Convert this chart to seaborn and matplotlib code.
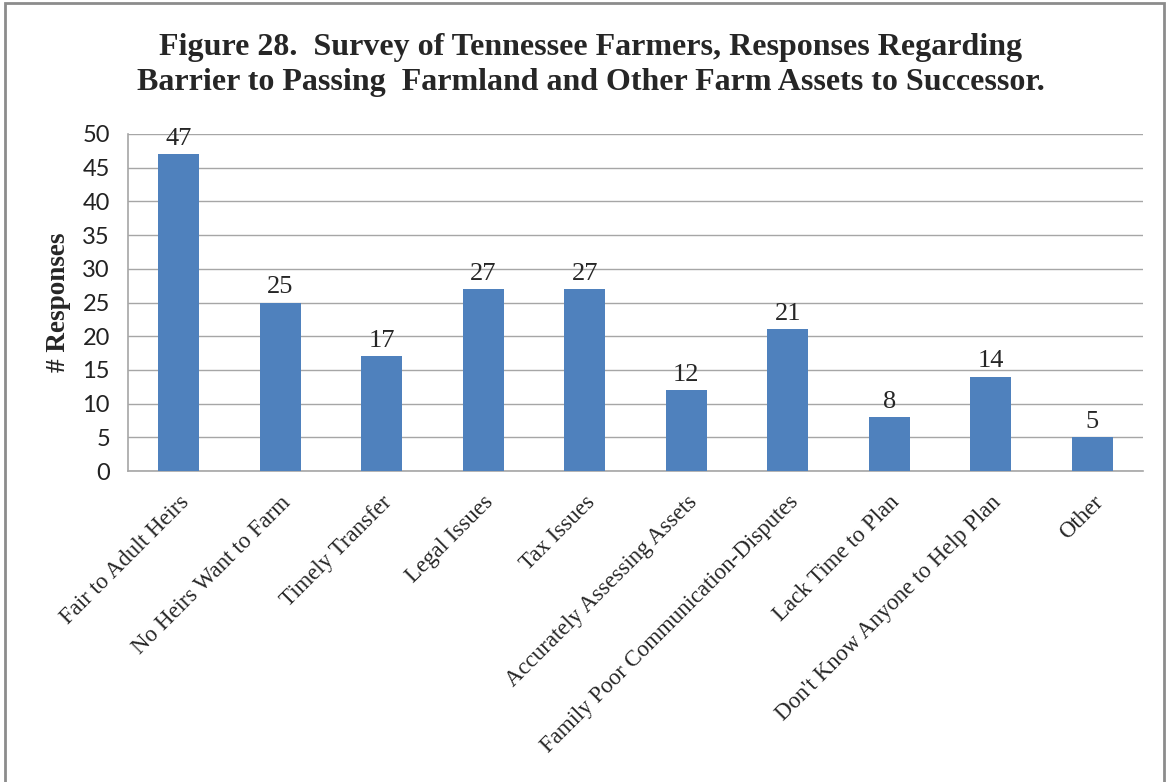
import matplotlib
matplotlib.use("Agg")
import matplotlib.pyplot as plt
import seaborn as sns
import pandas as pd
import numpy as np
from matplotlib.patches import Rectangle

categories = ["Fair to Adult Heirs", "No Heirs Want to Farm", "Timely Transfer",
              "Legal Issues", "Tax Issues", "Accurately Assessing Assets",
              "Family Poor Communication-Disputes", "Lack Time to Plan",
              "Don't Know Anyone to Help Plan", "Other"]
responses = [47, 25, 17, 27, 27, 12, 21, 8, 14, 5]
y_ticks = [0, 5, 10, 15, 20, 25, 30, 35, 40, 45, 50]

title = ("Figure 28.  Survey of Tennessee Farmers, Responses Regarding\n"
         "Barrier to Passing  Farmland and Other Farm Assets to Successor.")

sns.set_style("white")
df = pd.DataFrame({"cat": categories, "n": responses})

fig = plt.figure(figsize=(11.7, 7.82), dpi=100)
ax = fig.add_axes([128/1170, 1-471/782, (1143-128)/1170, (471-134)/782])

sns.barplot(data=df, x="cat", y="n", color="#4F81BD", saturation=1,
            width=0.4, ax=ax, zorder=3, linewidth=0)

ax.set_ylim(0, 50)
ax.set_xlim(-0.5, len(categories)-0.5)
ax.set_yticks(y_ticks)
ax.yaxis.grid(True, color="#A6A6A6", linewidth=1, zorder=0)
ax.set_axisbelow(True)
for s in ["top", "right"]:
    ax.spines[s].set_visible(False)
for s in ["left", "bottom"]:
    ax.spines[s].set_color("#A6A6A6")
    ax.spines[s].set_linewidth(1.2)

ax.tick_params(axis="y", length=8, color="#A6A6A6", labelsize=17, pad=5)
for lab in ax.get_yticklabels():
    lab.set_family("Lato")
    lab.set_color("#222222")

ax.set_xticks(range(len(categories)))
ax.set_xticklabels(categories, rotation=45, ha="right", rotation_mode="anchor",
                   family="Liberation Serif", fontsize=16.5)
ax.tick_params(axis="x", which="major", length=0, pad=15)
ax.set_xticks(np.arange(-0.5, len(categories), 1.0), minor=True)
ax.tick_params(axis="x", which="minor", length=8, color="#A6A6A6", width=1)

ax.set_xlabel("")
ax.set_ylabel("# Responses", family="Liberation Serif", fontweight="bold",
              fontsize=19.5, labelpad=8)

for c in ax.containers:
    ax.bar_label(c, labels=[str(v) for v in responses], padding=3,
                 family="Liberation Serif", fontsize=19)

fig.text(591/1170, 1-65/782, title, ha="center", va="center",
         family="Liberation Serif", fontweight="bold", fontsize=23,
         linespacing=1.25)

fig.patches.append(Rectangle((5/1170, -0.02), (1164-5)/1170, 1.02-3/782,
                             transform=fig.transFigure, fill=False,
                             edgecolor="#8C8C8C", linewidth=2))

fig.savefig("out.png", dpi=100)
